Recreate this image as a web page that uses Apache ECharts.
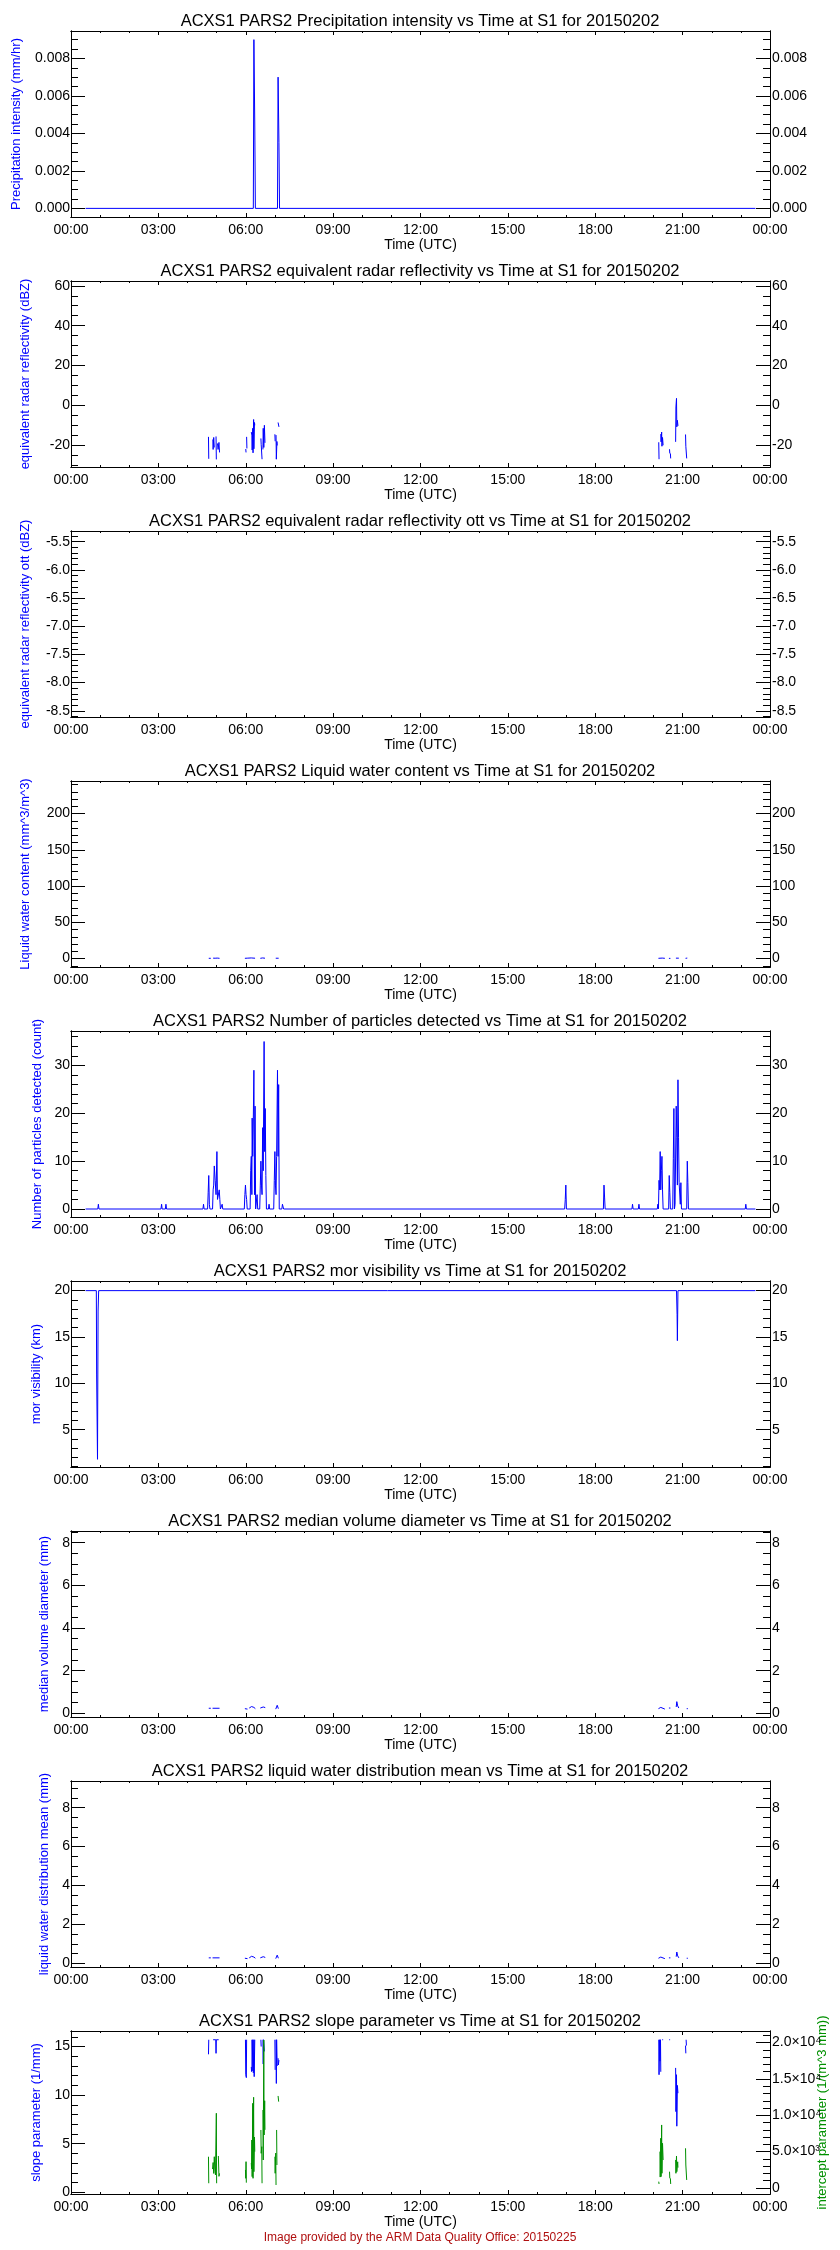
<!DOCTYPE html>
<html><head><meta charset="utf-8">
<script src="https://cdn.jsdelivr.net/npm/echarts@6/dist/echarts.min.js"></script>
<style>html,body{margin:0;padding:0;background:#fff}#c{width:840px;height:2250px}</style>
</head><body><div id="c"></div>
<script>
// ---------------- DATA ----------------
const xTickHours = [0, 3, 6, 9, 12, 15, 18, 21, 24];
const xTickLabels = ['00:00', '03:00', '06:00', '09:00', '12:00', '15:00', '18:00', '21:00', '00:00'];

const titles = [
  'ACXS1 PARS2 Precipitation intensity vs Time at S1 for 20150202',
  'ACXS1 PARS2 equivalent radar reflectivity vs Time at S1 for 20150202',
  'ACXS1 PARS2 equivalent radar reflectivity ott vs Time at S1 for 20150202',
  'ACXS1 PARS2 Liquid water content vs Time at S1 for 20150202',
  'ACXS1 PARS2 Number of particles detected vs Time at S1 for 20150202',
  'ACXS1 PARS2 mor visibility vs Time at S1 for 20150202',
  'ACXS1 PARS2 median volume diameter vs Time at S1 for 20150202',
  'ACXS1 PARS2 liquid water distribution mean vs Time at S1 for 20150202',
  'ACXS1 PARS2 slope parameter vs Time at S1 for 20150202'
];
const yNames = [
  'Precipitation intensity (mm/hr)',
  'equivalent radar reflectivity (dBZ)',
  'equivalent radar reflectivity ott (dBZ)',
  'Liquid water content (mm^3/m^3)',
  'Number of particles detected (count)',
  'mor visibility (km)',
  'median volume diameter (mm)',
  'liquid water distribution mean (mm)',
  'slope parameter (1/mm)'
];
const rightName9 = 'intercept parameter (1/(m^3 mm))';
const footerText = 'Image provided by the ARM Data Quality Office: 20150225';

// tick values / labels
const precipTicks = [0, 0.002, 0.004, 0.006, 0.008];
const precipTickLabels = ['0.000', '0.002', '0.004', '0.006', '0.008'];
const reflTicks = [-20, 0, 20, 40, 60];
const reflTickLabels = ['-20', '0', '20', '40', '60'];
const ottTicks = [-8.5, -8.0, -7.5, -7.0, -6.5, -6.0, -5.5];
const ottTickLabels = ['-8.5', '-8.0', '-7.5', '-7.0', '-6.5', '-6.0', '-5.5'];
const lwcTicks = [0, 50, 100, 150, 200];
const lwcTickLabels = ['0', '50', '100', '150', '200'];
const partTicks = [0, 10, 20, 30];
const partTickLabels = ['0', '10', '20', '30'];
const visTicks = [5, 10, 15, 20];
const visTickLabels = ['5', '10', '15', '20'];
const mvdTicks = [0, 2, 4, 6, 8];
const mvdTickLabels = ['0', '2', '4', '6', '8'];
const lwdmTicks = [0, 2, 4, 6, 8];
const lwdmTickLabels = ['0', '2', '4', '6', '8'];
const slopeTicks = [0, 5, 10, 15];
const slopeTickLabels = ['0', '5', '10', '15'];
const interceptTicks = [0, 5000, 10000, 15000, 20000];
const interceptTickLabels = ['0', '5.0×10³', '1.0×10⁴', '1.5×10⁴', '2.0×10⁴'];

// series (time in hours UTC; null = gap)
const precipTime  = [0.5, 6.26, 6.28, 6.31, 6.33, 7.09, 7.11, 7.14, 7.16, 23.5];
const precipValue = [0, 0, 0.009, 0.0045, 0, 0, 0.007, 0.0035, 0, 0];

const reflTime = [4.72, 4.73, null, 4.87, 4.88, 4.90, 4.92, null, 4.98, 4.99, null, 5.03, 5.05, 5.08, 5.10, null,
  6.00, 6.01, null, 6.03, 6.04, null, 6.19, 6.21, 6.22, 6.24, 6.25, 6.27, 6.28, 6.30, 6.31, null,
  6.52, 6.53, 6.55, 6.56, null, 6.59, 6.60, 6.62, 6.64, 6.66, null,
  7.00, 7.01, null, 7.04, 7.05, 7.07, 7.08, null, 7.11, 7.14, null,
  20.18, 20.19, null, 20.25, 20.26, 20.28, 20.29, 20.31, 20.33, null,
  20.55, 20.56, null, 20.58, 20.59, null,
  20.76, 20.77, 20.79, 20.80, 20.82, 20.84, null,
  21.10, 21.11, 21.13, 21.14, null];
const reflValue = [-15.7, -26.7, null, -17, -22, -16, -21, null, -15.5, -27, null, -19, -22, -18.5, -23.5, null,
  -21.8, -23.5, null, -15.7, -21.5, null, -13.3, -14.8, -22.3, -11.4, -23.7, -7, -21.7, -8.5, -9.9, null,
  -16.5, -19.4, -19.4, -26.9, null, -22, -11.4, -21, -9.9, -18.7, null,
  -14.4, -17.9, null, -14.8, -26.9, -18, -20, null, -8.5, -10.7, null,
  -18.4, -26.9, null, -14.3, -18.2, -13.3, -20.4, -16, -19.9, null,
  -21.9, -24, null, -24, -26.5, null,
  -18.2, -0.7, 3.6, -10.7, -7.4, -10.2, null,
  -14.5, -20.4, -20.4, -26.5, null];

const lwcTime = [4.73, 4.80, null, 4.88, 4.95, 5.02, 5.10, null, 5.97, 6.05, 6.10, 6.19, 6.25, 6.32, null,
  6.50, 6.58, 6.66, null, 7.03, 7.08, 7.13, null, 20.17, 20.30, 20.39, null, 20.53, 20.58, null,
  20.77, 20.82, 20.87, null, 21.10, 21.16, null];
const lwcValue = [0.3, 0.3, null, 0.5, 0.4, 0.6, 0.3, null, 0.3, 0.5, 0.4, 0.8, 0.5, 0.4, null,
  0.3, 0.8, 0.4, null, 0.4, 1.5, 0.4, null, 0.3, 0.6, 0.3, null, 0.2, 0.2, null,
  0.5, 2.0, 0.5, null, 0.3, 0.6, null];

const partTime = [0.5, 0.92, 0.94, 0.96, 3.09, 3.11, 3.13, 3.24, 3.26, 3.28, 4.53, 4.55, 4.57,
  4.69, 4.71, 4.73, 4.75, 4.77, 4.86, 4.88, 4.90, 4.92, 4.95, 4.98, 5.01, 5.03, 5.07, 5.09, 5.11, 5.13, 5.17, 5.19, 5.21,
  5.95, 5.97, 5.99, 6.01, 6.03, 6.05, 6.15, 6.17, 6.19, 6.21, 6.22, 6.24, 6.26, 6.28, 6.30, 6.32, 6.34,
  6.37, 6.39, 6.41, 6.48, 6.50, 6.52, 6.54, 6.56, 6.58, 6.60, 6.63, 6.65, 6.67, 6.69, 6.71, 6.78, 6.80, 6.82,
  6.96, 6.98, 7.00, 7.02, 7.04, 7.06, 7.09, 7.11, 7.13, 7.15, 7.24, 7.26, 7.28, 7.30,
  16.95, 16.97, 16.99, 17.01, 18.28, 18.30, 18.32, 18.34, 19.26, 19.28, 19.30, 19.48, 19.50, 19.52,
  20.13, 20.15, 20.17, 20.19, 20.21, 20.23, 20.25, 20.27, 20.29, 20.31, 20.33, 20.35, 20.37,
  20.52, 20.54, 20.56, 20.58, 20.66, 20.68, 20.70, 20.72, 20.74, 20.76, 20.78, 20.80, 20.82, 20.84, 20.86, 20.88, 20.92, 20.94, 20.96,
  21.14, 21.16, 21.18, 21.20, 23.15, 23.17, 23.19, 23.5];
const partCount = [0, 0, 1, 0, 0, 1, 0, 0, 1, 0, 0, 1, 0,
  0, 3.5, 7, 1, 0, 0, 4, 5, 9, 6, 3, 12, 2, 2, 4, 2, 0, 0, 1, 0,
  0, 3, 5, 3, 2, 0, 0, 8, 11, 3, 19, 11, 19, 29, 3, 21.5, 0,
  0, 3, 0, 0, 5, 10, 5, 3, 17, 8, 35, 12, 21, 7, 0, 0, 1, 0,
  0, 6, 12, 5, 3, 11, 29, 11, 26, 0, 0, 1, 1, 0,
  0, 2, 5, 0, 0, 5, 2.5, 0, 0, 1, 0, 0, 1, 0,
  0, 1, 0, 6, 4, 12, 4, 8, 11, 4, 0, 0, 0,
  0, 7, 3.5, 0, 0, 10.5, 21, 0, 1, 1, 21.5, 15, 5, 27, 15, 5.5, 1, 5.5, 0,
  0, 10, 5.5, 0, 0, 1, 0, 0];

const visTime  = [0.5, 0.87, 0.88, 0.91, 0.93, 0.95, 20.79, 20.81, 20.82, 20.84, 23.5];
const visValue = [20, 20, 11, 1.8, 17.8, 20, 20, 17.4, 14.6, 20, 20];

const mvdTime = [4.73, 4.80, null, 4.86, 5.10, null, 5.97, 6.02, 6.06, null, 6.12, 6.20, 6.28, 6.33, null,
  6.50, 6.60, 6.67, null, 7.03, 7.08, 7.12, null, 20.17, 20.25, 20.30, 20.39, null, 20.53, 20.58, null,
  20.78, 20.80, 20.83, 20.87, null, 21.14, 21.18, null];
const mvdValue = [0.24, 0.24, null, 0.24, 0.24, null, 0.22, 0.30, 0.20, null, 0.25, 0.32, 0.28, 0.22, null,
  0.25, 0.30, 0.27, null, 0.20, 0.38, 0.22, null, 0.22, 0.28, 0.25, 0.20, null, 0.25, 0.25, null,
  0.30, 0.55, 0.35, 0.25, null, 0.22, 0.22, null];

const lwdmTime = [4.73, 4.80, null, 4.86, 5.10, null, 5.97, 6.02, 6.06, null, 6.12, 6.20, 6.28, 6.33, null,
  6.50, 6.60, 6.67, null, 7.03, 7.08, 7.12, null, 20.17, 20.25, 20.30, 20.39, null, 20.53, 20.58, null,
  20.78, 20.80, 20.83, 20.87, null, 21.14, 21.18, null];
const lwdmValue = [0.28, 0.28, null, 0.28, 0.28, null, 0.26, 0.34, 0.24, null, 0.28, 0.36, 0.32, 0.26, null,
  0.28, 0.34, 0.30, null, 0.24, 0.42, 0.26, null, 0.26, 0.32, 0.28, 0.24, null, 0.28, 0.28, null,
  0.34, 0.58, 0.38, 0.28, null, 0.26, 0.26, null];

const slopeTime = [4.72, 4.73, null, 4.88, 4.97, 4.98, 4.99, 5.07, null,
  5.99, 6.00, 6.02, 6.03, null, 6.19, 6.20, null, 6.21, 6.22, 6.24, 6.26, 6.28, 6.29, 6.31, null,
  6.52, 6.53, null, 6.59, 6.60, 6.61, 6.63, 6.64, null,
  7.00, 7.01, null, 7.04, 7.05, 7.06, 7.08, null, 7.11, 7.12, 7.14, null,
  20.18, 20.19, 20.21, 20.22, 20.24, 20.25, null, 20.30, 20.33, null, 20.54, 20.57, null,
  20.76, 20.77, 20.79, 20.80, 20.82, 20.84, null, 21.10, 21.11, null, 21.12, 21.13, null];
const slopeValue = [14.2, 15.7, null, 15.7, 15.7, 14.3, 15.7, 15.7, null,
  15.7, 12.1, 11.8, 15.7, null, 12.9, 12.4, null, 15.7, 12.5, 15.7, 12.3, 15.7, 11.9, 15.7, null,
  15.7, 15.0, null, 15.7, 13.2, 15.7, 15.7, 14.5, null,
  15.7, 12.6, null, 15.7, 11.2, 15.7, 13.0, null, 13.8, 13.1, 13.6, null,
  15.7, 12.1, 15.7, 13.5, 15.7, 12.4, null, 15.7, 15.7, null, 15.7, 15.7, null,
  12.8, 8.3, 12.1, 6.8, 11.0, 10.2, null, 15.1, 14.3, null, 15.7, 15.1, null];

const interceptTime = [4.72, 4.73, null, 4.86, 4.88, 4.90, 4.92, 4.94, 4.96, 4.99, 5.00, null, 5.06, 5.08, 5.10, null,
  5.99, 6.00, 6.01, 6.02, null, 6.19, 6.20, 6.21, 6.22, 6.24, 6.25, 6.27, 6.28, 6.30, 6.31, null,
  6.52, 6.53, 6.55, 6.56, null, 6.59, 6.60, 6.62, 6.63, 6.65, 6.66, null,
  7.00, 7.01, 7.03, 7.04, null, 7.06, 7.07, null, 7.11, 7.13, null,
  20.18, 20.19, null, 20.22, 20.23, 20.25, 20.26, 20.28, 20.29, 20.31, 20.33, null,
  20.55, 20.56, null, 20.58, 20.59, null, 20.76, 20.77, 20.79, 20.80, 20.83, 20.84, null,
  21.10, 21.11, 21.13, 21.14, null];
const interceptValue = [4300, 650, null, 2600, 3500, 2000, 4300, 2500, 1800, 10280, 650, null, 4400, 1600, 2000, null,
  2477, 1330, 3620, 730, null, 3440, 2610, 6600, 1560, 11650, 1330, 12480, 2240, 7000, 5000, null,
  7980, 4770, 5680, 650, null, 10730, 3850, 20360, 7290, 12000, 8000, null,
  4300, 2020, 4800, 410, null, 7980, 3160, null, 12660, 11880, null,
  870, 550, null, 5000, 1500, 6840, 1560, 8670, 2020, 6150, 3850, null,
  2240, 1330, null, 1330, 550, null, 3850, 2020, 4400, 2240, 3600, 2800, null,
  5460, 3160, 3160, 1100, null];

// ---------------- LAYOUT / STYLE ----------------
const FONT = 'Liberation Sans';
const BLUE = '#0000ff', GREEN = '#009000';
const PLOT_LEFT = 71, PLOT_RIGHT = 70, PANEL_STEP = 250, FIRST_TOP = 31;

function xy(t, v) { return t.map((x, i) => (x === null || v[i] === null) ? ['-', '-'] : [x, v[i]]); }
function ticksBetween(min, max, step) {
  const out = [];
  for (let k = Math.ceil(min / step - 1e-9); k * step <= max + 1e-12; k++) out.push(Math.round(k * step * 1e6) / 1e6);
  return out;
}
function fmtFrom(vals, labels) {
  return v => { const i = vals.findIndex(m => Math.abs(m - v) < 1e-9); return i >= 0 ? labels[i] : ''; };
}

const panels = [
  {min: -0.00046, max: 0.00946, ticks: precipTicks, labels: precipTickLabels, minor: 0.0005, gap: 48,
   series: [{t: precipTime, v: precipValue, c: BLUE}]},
  {min: -30.8, max: 62.4, ticks: reflTicks, labels: reflTickLabels, minor: 5, gap: 39,
   series: [{t: reflTime, v: reflValue, c: BLUE}]},
  {min: -8.61, max: -5.31, ticks: ottTicks, labels: ottTickLabels, minor: 0.1, gap: 39, series: []},
  {min: -11.7, max: 245, ticks: lwcTicks, labels: lwcTickLabels, minor: 10, gap: 39,
   series: [{t: lwcTime, v: lwcValue, c: BLUE}]},
  {min: -1.67, max: 37.2, ticks: partTicks, labels: partTickLabels, minor: 2, gap: 27,
   series: [{t: partTime, v: partCount, c: BLUE}]},
  {min: 0.97, max: 21.04, ticks: visTicks, labels: visTickLabels, minor: 1, gap: 28,
   series: [{t: visTime, v: visValue, c: BLUE}]},
  {min: -0.17, max: 8.55, ticks: mvdTicks, labels: mvdTickLabels, minor: 0.5, gap: 15,
   series: [{t: mvdTime, v: mvdValue, c: BLUE}]},
  {min: -0.19, max: 9.37, ticks: lwdmTicks, labels: lwdmTickLabels, minor: 0.5, gap: 15,
   series: [{t: lwdmTime, v: lwdmValue, c: BLUE}]},
  {min: -0.18, max: 16.6, ticks: slopeTicks, labels: slopeTickLabels, minor: 1, gap: 28, height: 163,
   right: {min: -830, max: 21600, ticks: interceptTicks, labels: interceptTickLabels, minor: 1000},
   series: [{t: slopeTime, v: slopeValue, c: BLUE}, {t: interceptTime, v: interceptValue, c: GREEN, right: true}]}
];

const grid = [], xAxis = [], yAxis = [], series = [], title = [];
const xMinor = ticksBetween(0, 24, 1);

function baseAxis(gi, pos, min, max) {
  return {type: 'value', gridIndex: gi, position: pos, min, max, scale: true,
    splitLine: {show: false}, splitArea: {show: false}, minorTick: {show: false},
    axisLine: {show: true, onZero: false, lineStyle: {color: '#000', width: 1}},
    axisPointer: {show: false}};
}
function tickAxis(gi, pos, min, max, vals, len, label) {
  const a = baseAxis(gi, pos, min, max);
  a.axisTick = {show: true, inside: true, length: len, customValues: vals, lineStyle: {color: '#000', width: 1}};
  a.axisLabel = label ? Object.assign({show: true, customValues: vals, color: '#000', fontSize: 14, fontFamily: FONT}, label)
                      : {show: false};
  return a;
}

panels.forEach((p, gi) => {
  const top = FIRST_TOP + PANEL_STEP * gi;
  const h = p.height || 186;
  grid.push({left: PLOT_LEFT, right: PLOT_RIGHT, top, height: h, containLabel: false, outerBoundsMode: 'none', show: false});
  title.push({text: titles[gi], left: 'center', top: top - 18, padding: 0,
    textStyle: {fontFamily: FONT, fontSize: 16.5, fontWeight: 'normal', color: '#000'}});

  // x axes: bottom major (labels), bottom minor, top major, top minor
  const xb = tickAxis(gi, 'bottom', 0, 24, xTickHours, 4, {margin: 6, formatter: fmtFrom(xTickHours, xTickLabels)});
  xb.name = 'Time (UTC)'; xb.nameLocation = 'middle'; xb.nameGap = 21;
  xb.nameTextStyle = {color: '#000', fontSize: 14, fontFamily: FONT};
  xAxis.push(xb);
  xAxis.push(tickAxis(gi, 'bottom', 0, 24, xMinor, 2, null));
  xAxis.push(tickAxis(gi, 'top', 0, 24, xTickHours, 4, null));
  xAxis.push(tickAxis(gi, 'top', 0, 24, xMinor, 2, null));

  // y axes: left major, left minor, right major, right minor
  const minorL = ticksBetween(p.min, p.max, p.minor);
  const yl = tickAxis(gi, 'left', p.min, p.max, p.ticks, 14, {margin: 1, formatter: fmtFrom(p.ticks, p.labels)});
  yl.name = yNames[gi]; yl.nameLocation = 'middle'; yl.nameGap = p.gap;
  yl.nameTextStyle = {color: BLUE, fontSize: 13, fontFamily: FONT};
  yAxis.push(yl);
  yAxis.push(tickAxis(gi, 'left', p.min, p.max, minorL, 7, null));
  const r = p.right || {min: p.min, max: p.max, ticks: p.ticks, labels: p.labels, minor: p.minor};
  const minorR = ticksBetween(r.min, r.max, r.minor);
  yAxis.push(tickAxis(gi, 'right', r.min, r.max, r.ticks, 14, {margin: 2, formatter: fmtFrom(r.ticks, r.labels)}));
  yAxis.push(tickAxis(gi, 'right', r.min, r.max, minorR, 7, null));

  p.series.forEach(s => {
    series.push({type: 'line', xAxisIndex: gi * 4, yAxisIndex: gi * 4 + (s.right ? 2 : 0),
      data: xy(s.t, s.v), showSymbol: false, symbol: 'none', connectNulls: false, clip: true,
      lineStyle: {color: s.c, width: 1}, itemStyle: {color: s.c}, silent: true, animation: false});
  });
});

title.push({text: footerText, left: 'center', top: 2232, padding: 0,
  textStyle: {fontFamily: FONT, fontSize: 12, fontWeight: 'normal', color: '#b01010'}});

// right-hand axis title of the last panel (green), centred on that plot
const lastTop = FIRST_TOP + PANEL_STEP * 8, lastH = panels[8].height;
const graphic = [{type: 'text', x: 822, y: lastTop + lastH / 2, rotation: Math.PI / 2, silent: true,
  style: {text: rightName9, fill: GREEN, font: '13px "' + FONT + '"', align: 'center', verticalAlign: 'middle'}}];

const chart = echarts.init(document.getElementById('c'), null, {renderer: 'canvas'});
chart.setOption({backgroundColor: '#fff', animation: false, textStyle: {fontFamily: FONT},
  title, grid, xAxis, yAxis, series, graphic, tooltip: {show: false}});
</script></body></html>
